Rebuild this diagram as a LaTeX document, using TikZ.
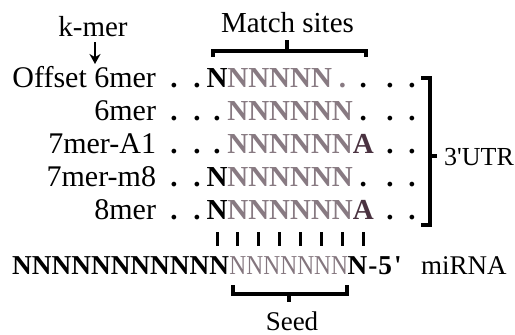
\documentclass[tikz,border=0pt]{standalone}
\usepackage{fontspec}
\setmainfont{Liberation Serif}
\usepackage{graphicx}
\usetikzlibrary{arrows.meta}
\definecolor{seedgrey}{RGB}{136,122,130}
\definecolor{seedlight}{RGB}{132,118,126}
\definecolor{adark}{RGB}{74,50,64}
\tikzset{
  big/.style={font=\fontsize{29}{29}\selectfont, inner sep=0pt, outer sep=0pt},
  mid/.style={font=\fontsize{27}{27}\selectfont, inner sep=0pt, outer sep=0pt},
  rowlabel/.style={font=\fontsize{30}{30}\selectfont, inner sep=0pt, outer sep=0pt, anchor=base east},
  chr/.style={font=\fontsize{29}{29}\selectfont\bfseries, inner sep=0pt, outer sep=0pt, anchor=base},
  stn/.style={chr, text=black, node contents={N}},
  sts/.style={chr, text=seedgrey, node contents={N}},
  sta/.style={chr, text=adark, node contents={A}},
  std/.style={chr, text=black, node contents={.}},
  stg/.style={chr, text=seedgrey, node contents={.}},
  bracketline/.style={line width=3.2pt},
  pairtick/.style={line width=3pt},
}
\begin{document}
\begin{tikzpicture}[x=1pt,y=-1pt]
\useasboundingbox (0,0) rectangle (515,335);

% column headings
\node[big, anchor=base] (kmer) at (93,36) {k-mer};
\node[big, anchor=base] (match) at (287.5,32) {Match sites};
\coordinate (arrowtop) at (95,42);
\coordinate (arrowtip) at (95,64);
\draw[line width=2.8pt, -{Stealth[length=10pt,width=11pt]}] (arrowtop) -- (arrowtip);

% bracket over the match sites
\draw[bracketline] (213,57) -- (213,51) -- (366,51) -- (366,57);
\draw[bracketline] (287,51) -- (287,40);

% the five site types
\foreach \r/\yy/\name/\codes in {
    1/87/{Offset 6mer}/{n,s,s,s,s,s,g,d},
    2/120/{6mer}/{d,s,s,s,s,s,s,d},
    3/153/{7mer-A1}/{d,s,s,s,s,s,s,a},
    4/186/{7mer-m8}/{n,s,s,s,s,s,s,d},
    5/219/{8mer}/{n,s,s,s,s,s,s,a}} {
  \node[rowlabel] (lab\r) at (156,\yy) {\name};
  \node (pre\r a) at (174,\yy) [std];
  \node (pre\r b) at (197,\yy) [std];
  \foreach \c [count=\k from 0] in \codes {
    \node (r\r c\k) at ({217+20.9*\k},\yy) [st\c];
  }
  \node (post\r a) at (390,\yy) [std];
  \node (post\r b) at (412,\yy) [std];
}

% 3'UTR bracket
\draw[bracketline] (421,78) -- (430,78) -- (430,225) -- (421,225);
\draw[bracketline] (430,156) -- (437,156);
\node[font=\fontsize{26}{26}\selectfont, inner sep=0pt, anchor=base west] (utr) at (444,165.5) {3\textquotesingle UTR};

% base-pairing ticks
\foreach \k in {0,...,7} {
  \draw[pairtick] ({217+20.9*\k},232) -- ({217+20.9*\k},246);
}

% miRNA strand
\node[font=\fontsize{27.3}{27.3}\selectfont\bfseries, inner sep=0pt, anchor=base west] (mirtail) at (12,274) {NNNNNNNNNNN};
\node[font=\fontsize{27.3}{27.3}\selectfont, text=seedlight, inner sep=0pt, anchor=base west] (mirseed) at (mirtail.base east) {\scalebox{0.86}[1]{NNNNNNN}};
\node[font=\fontsize{27.3}{27.3}\selectfont\bfseries, inner sep=0pt, anchor=base west] (mirfive) at (347.5,274) {N\kern1pt-\kern1pt5\kern2pt\textquotesingle};
\node[font=\fontsize{27}{27}\selectfont, inner sep=0pt, anchor=base west] (mirlabel) at (421,274) {miRNA};

% seed bracket
\draw[bracketline] (233,285) -- (233,294) -- (347,294) -- (347,285);
\draw[bracketline] (289,294) -- (289,302);
\node[mid, anchor=base] (seed) at (292,330) {Seed};
\end{tikzpicture}
\end{document}
